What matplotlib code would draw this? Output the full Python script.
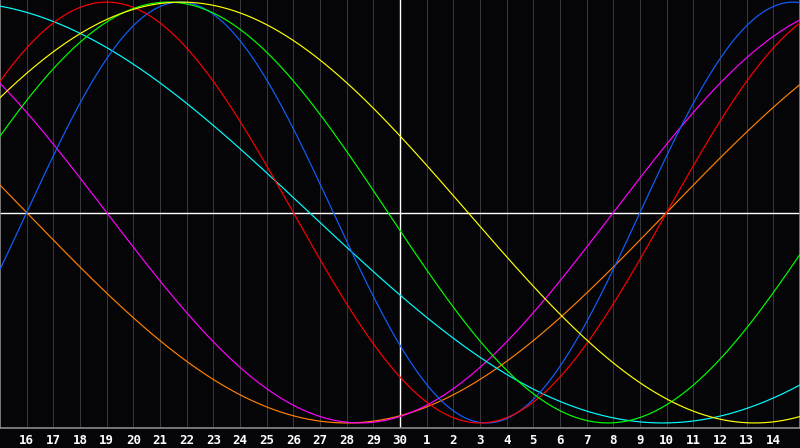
import matplotlib
matplotlib.use("Agg")
import matplotlib.pyplot as plt
import numpy as np

# day labels shown under the grid (offset 1..29 from left edge)
day_labels = ["16", "17", "18", "19", "20", "21", "22", "23", "24", "25",
              "26", "27", "28", "29", "30", "1", "2", "3", "4", "5",
              "6", "7", "8", "9", "10", "11", "12", "13", "14"]
today_offset = 15

# cycle lengths (days) and offset where each curve crosses zero going up
cycle_days = [48, 38, 53, 23, 28, 33, 43]
zero_up = [-23.0, -15.0, -14.9, 1.0, -3.0, -1.95, -3.95]
cycle_colors = ["#ff8000", "#ff00ff", "#00ffff", "#1060ff", "#ff0000", "#00ff00", "#ffff00"]

W, H = 800, 448
plot_h = 428

fig = plt.figure(figsize=(W / 100, H / 100), dpi=100)
fig.patch.set_facecolor("#050508")
ax = fig.add_axes([0, 1 - plot_h / H, 1, plot_h / H])
ax.set_facecolor("#050508")

ax.set_xlim(0, 30)
ax.set_ylim(-1.024, 1.01)

# day grid
for i in range(1, 30):
    if i == today_offset:
        continue
    ax.axvline(i, color="#38383c", lw=0.75, zorder=1)

ax.axhline(0, color="white", lw=1.0, zorder=2)
ax.axvline(today_offset, color="white", lw=1.0, zorder=2)

t = np.linspace(0, 30, 1200)
for P, t0, c in zip(cycle_days, zero_up, cycle_colors):
    ax.plot(t, np.sin(2 * np.pi * (t - t0) / P), color=c, lw=0.85, zorder=3)

ax.spines["top"].set_visible(False)
for side in ["left", "right", "bottom"]:
    ax.spines[side].set_color("#8a8a8a")
    ax.spines[side].set_linewidth(1.2)

ax.set_xticks(range(1, 30))
ax.set_xticklabels(day_labels)
ax.tick_params(axis="x", length=0, pad=4, colors="white", labelsize=9)
for lbl in ax.get_xticklabels():
    lbl.set_fontfamily("DejaVu Sans Mono")
    lbl.set_fontweight("bold")
ax.set_yticks([])

fig.savefig("out.png", dpi=100, facecolor=fig.get_facecolor())
